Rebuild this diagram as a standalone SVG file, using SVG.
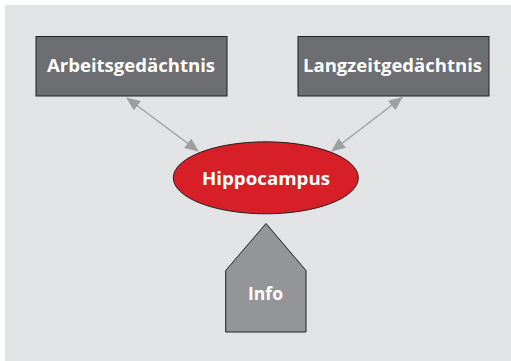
<svg xmlns="http://www.w3.org/2000/svg" width="511" height="361" viewBox="0 0 511 361">
<defs>
<style>
.lbl{font-family:"Open Sans","Liberation Sans",sans-serif;font-weight:bold;fill:#ffffff;font-size:17px;text-anchor:middle}
.box{fill:#6d6e71;stroke:#231f20;stroke-width:1}
.conn{stroke:#9d9ea1;stroke-width:1.3;fill:none;marker-start:url(#ah);marker-end:url(#ah)}
</style>
<marker id="ah" viewBox="0 0 14 12" refX="13" refY="6" markerWidth="14" markerHeight="12" markerUnits="userSpaceOnUse" orient="auto-start-reverse">
<path d="M0,0 L14,6 L0,12 Z" fill="#9d9ea1"/>
</marker>
</defs>
<rect x="0" y="0" width="511" height="361" fill="#ffffff"/>
<rect x="5" y="5" width="506" height="356" fill="#e2e3e5"/>
<g id="connectors">
<line class="conn" x1="127" y1="98" x2="198" y2="151"/>
<line class="conn" x1="402" y1="97.5" x2="332" y2="151"/>
</g>
<g id="arbeitsgedaechtnis">
<rect class="box" x="36" y="36.5" width="191" height="59.5"/>
<text class="lbl" x="131" y="72" textLength="168" lengthAdjust="spacingAndGlyphs">Arbeitsgedächtnis</text>
</g>
<g id="langzeitgedaechtnis">
<rect class="box" x="298" y="36.5" width="191" height="59.5"/>
<text class="lbl" x="392.5" y="72" textLength="179" lengthAdjust="spacingAndGlyphs">Langzeitgedächtnis</text>
</g>
<g id="hippocampus">
<ellipse cx="265.8" cy="177.8" rx="92.5" ry="36" fill="#d71f27" stroke="#231f20" stroke-width="1"/>
<text class="lbl" x="266" y="185" textLength="128" lengthAdjust="spacingAndGlyphs">Hippocampus</text>
</g>
<g id="info">
<polygon points="266,223.5 306,270.5 306,332 225.7,332 225.7,270.5" fill="#939598" stroke="#231f20" stroke-width="1"/>
<text class="lbl" x="265.5" y="300" textLength="35" lengthAdjust="spacingAndGlyphs">Info</text>
</g>
</svg>
